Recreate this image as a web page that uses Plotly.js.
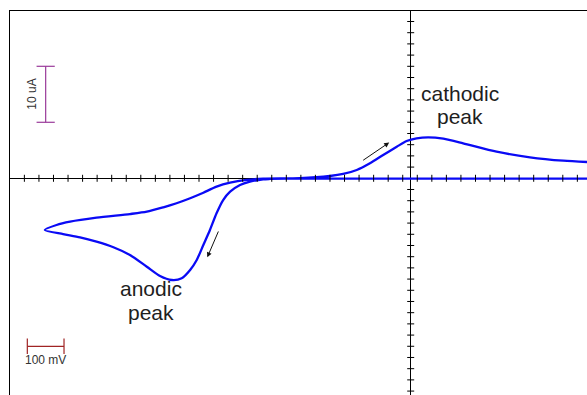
<!DOCTYPE html>
<html>
<head>
<meta charset="utf-8">
<script src="https://cdn.plot.ly/plotly-3.0.1.min.js"></script>
<style>html,body{margin:0;padding:0;background:#fff;}#chart{width:587px;height:395px;}</style>
</head>
<body>
<div id="chart"></div>
<script>
// Potential (mV) and current (uA) along the voltammogram path
const potential = [515, 243, -29, -302, -383, -402, -438, -465, -492, -511, -529, -547, -565, -583, -601, -624, -651, -683, -719, -765, -810, -856, -901, -947, -997,
  -965, -928, -856, -765, -719, -674, -638, -601, -565, -529, -492, -447, -402, -302, -220, -184, -147, -111, -75, -38, -11, 16, 48, 89, 143, 234, 325, 416, 489];
const current = [-0.05, -0.05, -0.05, -0.05, -0.12, -0.18, -0.61, -1.20, -2.39, -3.88, -6.25, -9.23, -11.91, -14.59, -16.38, -17.86, -18.16, -17.45, -15.79, -13.70, -12.32, -11.32, -10.54, -9.95, -9.23,
  -8.34, -7.75, -7.04, -6.38, -5.96, -5.18, -4.46, -3.57, -2.57, -1.50, -0.79, -0.30, -0.07, 0.02, 0.41, 0.77, 1.48, 2.68, 4.16, 5.64, 6.66, 7.14, 7.32, 7.07, 6.25, 4.75, 3.75, 3.14, 2.88];

// Axis tick positions
const xTickStart = -1052.6, xTickStep = 39.65, xTickCount = 39;
const yTickValues = [-38, -36, -34, -32, -30, -28, -26, -24, -22, -20, -18, -16, -14, -12, -10, -8, -6, -4, -2, 2, 4, 6, 8, 10, 12, 14, 16, 18, 20, 22, 24, 26, 28];
const xTickValues = [];
for (let k = 0; k < xTickCount; k++) xTickValues.push(+(xTickStart + k * xTickStep).toFixed(2));

// Scale bars
const scaleBarCenterE = -994.6;
const currentBar = [10, 20];        // 10 uA
const potentialBar = [-1044.6, -944.6]; // 100 mV
const potentialBarLevel = -30;

// Labels
const labels = {
  cathodic: ['cathodic', 'peak'],
  anodic: ['anodic', 'peak'],
  currentBar: '10 uA',
  potentialBar: '100 mV'
};

const FONT = 'Liberation Sans, Arial, Helvetica, sans-serif';

const traces = [
  {
    x: potential, y: current, mode: 'lines', type: 'scatter',
    line: {color: '#0a0af5', width: 2.3, shape: 'spline', smoothing: 0.7},
    hoverinfo: 'skip'
  },
  {
    x: xTickValues, y: xTickValues.map(() => 0), mode: 'markers', type: 'scatter',
    marker: {symbol: 'line-ns-open', size: 5, color: '#000', line: {color: '#000', width: 1}},
    hoverinfo: 'skip'
  },
  {
    x: yTickValues.map(() => 0), y: yTickValues, mode: 'markers', type: 'scatter',
    marker: {symbol: 'line-ew-open', size: 5, color: '#000', line: {color: '#000', width: 1}},
    hoverinfo: 'skip'
  },
  {
    x: [scaleBarCenterE, scaleBarCenterE], y: currentBar, mode: 'lines+markers', type: 'scatter',
    line: {color: '#9a3a9a', width: 1.2},
    marker: {symbol: 'line-ew-open', size: 13, color: '#9a3a9a', line: {color: '#9a3a9a', width: 1.2}},
    hoverinfo: 'skip'
  },
  {
    x: potentialBar, y: [potentialBarLevel, potentialBarLevel], mode: 'lines+markers', type: 'scatter',
    line: {color: '#a02424', width: 1.2},
    marker: {symbol: 'line-ns-open', size: 11, color: '#a02424', line: {color: '#a02424', width: 1.2}},
    hoverinfo: 'skip'
  }
];

const bigFont = {family: FONT, size: 21, color: '#1e1e1e'};
const smallFont = {family: FONT, size: 12, color: '#333'};

const annotations = [
  {x: 134.3, y: 15.1, text: labels.cathodic[0], showarrow: false, font: bigFont, xanchor: 'center', yanchor: 'middle'},
  {x: 134.3, y: 10.95, text: labels.cathodic[1], showarrow: false, font: bigFont, xanchor: 'center', yanchor: 'middle'},
  {x: -707.1, y: -19.6, text: labels.anodic[0], showarrow: false, font: bigFont, xanchor: 'center', yanchor: 'middle'},
  {x: -707.1, y: -23.9, text: labels.anodic[1], showarrow: false, font: bigFont, xanchor: 'center', yanchor: 'middle'},
  {x: -1032.7, y: 15.05, text: labels.currentBar, showarrow: false, font: smallFont, textangle: -90, xanchor: 'center', yanchor: 'middle'},
  {x: scaleBarCenterE, y: -32.45, text: labels.potentialBar, showarrow: false, font: smallFont, xanchor: 'center', yanchor: 'middle'},
  {x: -58.6, y: 6.39, ax: -133.5, ay: 3.04, axref: 'x', ayref: 'y', text: '', showarrow: true,
   arrowhead: 2, arrowsize: 1, arrowwidth: 1, arrowcolor: '#111', standoff: 0, startstandoff: 0},
  {x: -554.2, y: -14.11, ax: -522.3, ay: -9.23, axref: 'x', ayref: 'y', text: '', showarrow: true,
   arrowhead: 2, arrowsize: 1, arrowwidth: 1, arrowcolor: '#111', standoff: 0, startstandoff: 0}
];

const layout = {
  width: 587, height: 395,
  margin: {l: 10, r: 0, t: 11, b: 0, pad: 0},
  paper_bgcolor: '#fff', plot_bgcolor: '#fff',
  showlegend: false,
  xaxis: {
    range: [-1091.8, 480.4], side: 'top', showline: true, linecolor: '#000', linewidth: 1.5,
    showgrid: false, zeroline: true, zerolinecolor: '#000', zerolinewidth: 1,
    showticklabels: false, ticks: '', automargin: false, fixedrange: true
  },
  yaxis: {
    range: [-38.7, 29.875], showline: true, linecolor: '#000', linewidth: 1.5,
    showgrid: false, zeroline: true, zerolinecolor: '#000', zerolinewidth: 1,
    showticklabels: false, ticks: '', automargin: false, fixedrange: true
  },
  annotations: annotations
};

Plotly.newPlot('chart', traces, layout, {staticPlot: true, displayModeBar: false});
</script>
</body>
</html>
